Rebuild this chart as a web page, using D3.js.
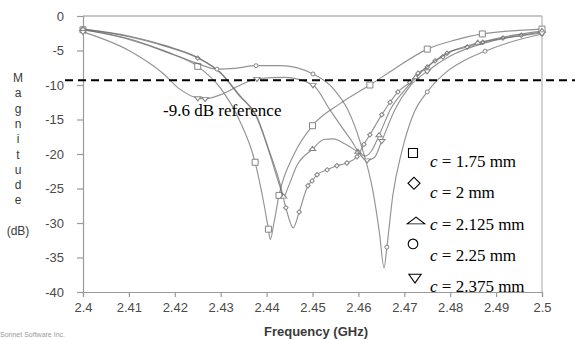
<!DOCTYPE html>
<html>
<head>
<meta charset="utf-8">
<script src="https://cdn.jsdelivr.net/npm/d3@7"></script>
<style>
  body { margin: 0; background: #fff; }
  svg { display: block; }
</style>
</head>
<body>
<svg id="chart" width="575" height="339"></svg>
<script>
// axis ticks
var xTicks = [2.4, 2.41, 2.42, 2.43, 2.44, 2.45, 2.46, 2.47, 2.48, 2.49, 2.5];
var xTickLabels = ['2.4', '2.41', '2.42', '2.43', '2.44', '2.45', '2.46', '2.47', '2.48', '2.49', '2.5'];
var yTicks = [0, -5, -10, -15, -20, -25, -30, -35, -40];

// reference level (dashed)
var refLevel = -9.3;
var refLabel = '-9.6 dB reference';

// legend
var legendValues = ['1.75', '2', '2.125', '2.25', '2.375'];

// c = 1.75 mm (square)
var freqA = [2.400, 2.410, 2.418, 2.425, 2.430, 2.434, 2.4375, 2.4395, 2.4404, 2.4408, 2.4416, 2.4427, 2.446, 2.450, 2.456, 2.4625, 2.468, 2.475, 2.481, 2.487, 2.500];
var magA  = [-2.0, -3.4, -5.2, -7.3, -10.5, -15.0, -21.2, -27.5, -30.9, -32.4, -30.0, -26.0, -20.0, -15.9, -12.7, -10.0, -7.6, -4.8, -3.5, -2.6, -1.9];
var markA = [0, 3, 6, 8, 11, 13, 15, 17, 19, 20];

// c = 2 mm (diamond)
var freqB = [2.400, 2.410, 2.418, 2.425, 2.430, 2.434, 2.4379, 2.4405, 2.4428, 2.4442, 2.4458, 2.4471, 2.449, 2.4499, 2.451, 2.4532, 2.4553, 2.4575, 2.4597, 2.4612, 2.4625, 2.4651, 2.4669, 2.4686, 2.4712, 2.473, 2.475, 2.4767, 2.4784, 2.4793, 2.4837, 2.4871, 2.4915, 2.4955, 2.500];
var magB  = [-1.9, -3.0, -4.4, -6.1, -8.3, -11.5, -14.6, -19.4, -24.0, -27.8, -30.7, -28.4, -24.6, -23.9, -23.0, -22.3, -21.7, -21.3, -20.4, -18.6, -17.2, -14.3, -12.5, -11.0, -9.6, -8.3, -7.4, -6.5, -5.9, -5.4, -4.5, -3.8, -3.2, -2.8, -2.3];
var markB = [0, 3, 9, 11, 12, 13, 14, 15, 16, 17, 18, 19, 20, 21, 22, 23, 24, 25, 26, 27, 28, 29, 30, 31, 32, 33, 34];

// c = 2.125 mm (triangle up)
var freqC = [2.400, 2.410, 2.418, 2.425, 2.430, 2.434, 2.4379, 2.4405, 2.4428, 2.4437, 2.4447, 2.4465, 2.450, 2.4525, 2.4545, 2.457, 2.4599, 2.4615, 2.4628, 2.4645, 2.467, 2.470, 2.4725, 2.476, 2.480, 2.486, 2.492, 2.500];
var magC  = [-1.9, -2.9, -4.3, -6.0, -8.2, -11.4, -14.8, -19.6, -24.5, -26.2, -24.8, -21.8, -19.3, -17.9, -17.8, -18.5, -19.7, -20.3, -19.6, -17.3, -13.5, -10.8, -8.9, -6.8, -5.2, -3.9, -3.0, -2.2];
var markC = [0, 9, 12, 16, 19, 22, 25, 27];

// c = 2.25 mm (circle)
var freqD = [2.400, 2.410, 2.418, 2.425, 2.4292, 2.433, 2.4377, 2.443, 2.4501, 2.4545, 2.4577, 2.4605, 2.4632, 2.4646, 2.4656, 2.4662, 2.4675, 2.4695, 2.472, 2.475, 2.479, 2.4835, 2.4876, 2.493, 2.500];
var magD  = [-2.0, -3.3, -5.1, -6.9, -7.7, -7.6, -7.2, -7.2, -8.4, -10.5, -13.6, -18.5, -25.5, -31.5, -36.5, -33.5, -26.0, -19.5, -14.2, -11.0, -8.2, -6.3, -5.1, -3.8, -2.6];
var markD = [0, 4, 6, 8, 15, 19, 22, 24];

// c = 2.375 mm (triangle down)
var freqE = [2.400, 2.410, 2.4174, 2.4211, 2.425, 2.4266, 2.430, 2.434, 2.4379, 2.444, 2.4501, 2.4538, 2.458, 2.4619, 2.4635, 2.4651, 2.468, 2.4712, 2.475, 2.480, 2.487, 2.493, 2.500];
var magE  = [-2.3, -5.0, -8.3, -10.6, -11.9, -12.0, -11.4, -10.1, -9.1, -8.9, -10.0, -13.6, -17.6, -20.9, -20.5, -18.1, -13.5, -10.2, -8.0, -5.8, -4.0, -3.1, -2.5];
var markE = [0, 4, 5, 8, 10, 13, 15, 18, 22];

var svg = d3.select('#chart');
var x = d3.scaleLinear().domain([2.4, 2.5]).range([83, 542]);
var y = d3.scaleLinear().domain([-40, 0]).range([292, 16]);

var axisFont = '"Liberation Sans", Arial, sans-serif';
var serifFont = '"Liberation Serif", "Times New Roman", serif';

// frame (top and right)
svg.append('line')
    .attr('x1', x(2.4)).attr('x2', x(2.5))
    .attr('y1', y(0)).attr('y2', y(0))
    .attr('stroke', '#b4b4b4').attr('stroke-width', 1.6);
svg.append('line')
    .attr('x1', x(2.5)).attr('x2', x(2.5))
    .attr('y1', y(0)).attr('y2', y(-40))
    .attr('stroke', '#b4b4b4').attr('stroke-width', 1.2);

// axes
var yAxis = svg.append('g')
    .attr('transform', 'translate(' + x(2.4) + ',0)')
    .call(d3.axisLeft(y).tickValues(yTicks).tickSize(6).tickPadding(13)
      .tickFormat(function(d) { return d; }));
var xAxis = svg.append('g')
    .attr('transform', 'translate(0,' + y(-40) + ')')
    .call(d3.axisBottom(x).tickValues(xTicks).tickSize(5).tickPadding(6)
      .tickFormat(function(d, i) { return xTickLabels[i]; }));

[yAxis, xAxis].forEach(function(g) {
  g.select('.domain').attr('stroke', '#9a9a9a').attr('stroke-width', 1.2);
  g.selectAll('.tick line').attr('stroke', '#9a9a9a').attr('stroke-width', 1.2);
  g.selectAll('.tick text')
      .attr('fill', '#4a4a4a')
      .style('font-family', axisFont)
      .style('font-size', '13px');
});

// y title, stacked letters
var yTitle = 'Magnitude'.split('');
svg.append('g').selectAll('text')
    .data(yTitle)
  .enter().append('text')
    .attr('x', 18)
    .attr('y', function(d, i) { return 82 + i * 15.3; })
    .attr('text-anchor', 'middle')
    .attr('fill', '#3a3a3a')
    .style('font-family', axisFont)
    .style('font-size', '12px')
    .text(function(d) { return d; });
svg.append('text')
    .attr('x', 18).attr('y', 235)
    .attr('text-anchor', 'middle')
    .attr('fill', '#3a3a3a')
    .style('font-family', axisFont)
    .style('font-size', '12px')
    .text('(dB)');

// x title
svg.append('text')
    .attr('x', 316).attr('y', 336)
    .attr('text-anchor', 'middle')
    .attr('fill', '#3a3a3a')
    .style('font-family', axisFont)
    .style('font-size', '13px')
    .style('font-weight', 'bold')
    .text('Frequency (GHz)');

svg.append('text')
    .attr('x', 0).attr('y', 337)
    .attr('fill', '#9a9a9a')
    .style('font-family', axisFont)
    .style('font-size', '7px')
    .text('Sonnet Software Inc.');

// markers
function markerPath(kind, s) {
  if (kind === 'square') return d3.symbol(d3.symbolSquare, s * s)();
  if (kind === 'diamond') return d3.symbol(d3.symbolSquare, s * s * 0.5)();
  if (kind === 'circle') return d3.symbol(d3.symbolCircle, s * s * 0.6)();
  return d3.symbol(d3.symbolTriangle, s * s * 0.6)();
}
function markerTransform(kind, sx, sy) {
  if (kind === 'diamond') return 'rotate(45)';
  if (kind === 'tridown') return 'rotate(180) scale(' + sx + ',' + sy + ')';
  if (kind === 'triup') return 'scale(' + sx + ',' + sy + ')';
  return '';
}

var series = [
  {f: freqA, m: magA, mk: markA, kind: 'square'},
  {f: freqB, m: magB, mk: markB, kind: 'diamond'},
  {f: freqC, m: magC, mk: markC, kind: 'triup'},
  {f: freqD, m: magD, mk: markD, kind: 'circle'},
  {f: freqE, m: magE, mk: markE, kind: 'tridown'}
];

var line = d3.line()
    .x(function(d) { return x(d[0]); })
    .y(function(d) { return y(d[1]); })
    .curve(d3.curveMonotoneX);

series.forEach(function(s) {
  var pts = s.f.map(function(f, i) { return [f, s.m[i]]; });
  svg.append('path')
      .attr('d', line(pts))
      .attr('fill', 'none')
      .attr('stroke', 'rgba(105,105,105,0.72)')
      .attr('stroke-width', 1.15);
  var size = s.kind === 'square' ? 6 : 4.5;
  svg.append('g').selectAll('path')
      .data(s.mk.map(function(i) { return pts[i]; }))
    .enter().append('path')
      .attr('transform', function(d) {
        return 'translate(' + x(d[0]) + ',' + y(d[1]) + ') ' + markerTransform(s.kind, 1.2, 0.9);
      })
      .attr('d', markerPath(s.kind, size))
      .attr('fill', '#fff')
      .attr('stroke', '#858585')
      .attr('stroke-width', 1);
});

// reference line
svg.append('line')
    .attr('x1', 65).attr('x2', 575)
    .attr('y1', y(refLevel)).attr('y2', y(refLevel))
    .attr('stroke', '#000')
    .attr('stroke-width', 2)
    .attr('stroke-dasharray', '8,5');
svg.append('text')
    .attr('x', 163).attr('y', 116)
    .attr('fill', '#000')
    .style('font-family', serifFont)
    .style('font-size', '17px')
    .text(refLabel);

// legend
var legendKinds = ['square', 'diamond', 'triup', 'circle', 'tridown'];
var legendMarkDy = [-14, -15, -8, -17, -15];
var legendMarkX = [413, 414, 416, 413, 415];
var legendSx = [1, 1, 1.5, 1, 1.05];
var legendSy = [1, 1, 0.65, 1, 0.85];
var legendSize = [9, 12, 10, 11, 10];
var legend = svg.append('g');
legendValues.forEach(function(v, i) {
  var base = 167 + i * 31.3;
  var k = legendKinds[i];
  legend.append('path')
      .attr('transform', 'translate(' + legendMarkX[i] + ',' + (base + legendMarkDy[i]) + ') ' +
        markerTransform(k, legendSx[i], legendSy[i]))
      .attr('d', markerPath(k, legendSize[i]))
      .attr('fill', 'none')
      .attr('stroke', '#000')
      .attr('stroke-width', 1.1);
  var t = legend.append('text')
      .attr('x', 430).attr('y', base)
      .attr('fill', '#000')
      .style('font-family', serifFont)
      .style('font-size', '17px');
  t.append('tspan').style('font-style', 'italic').text('c');
  t.append('tspan').text(' = ' + v + ' mm');
});
</script>
</body>
</html>
